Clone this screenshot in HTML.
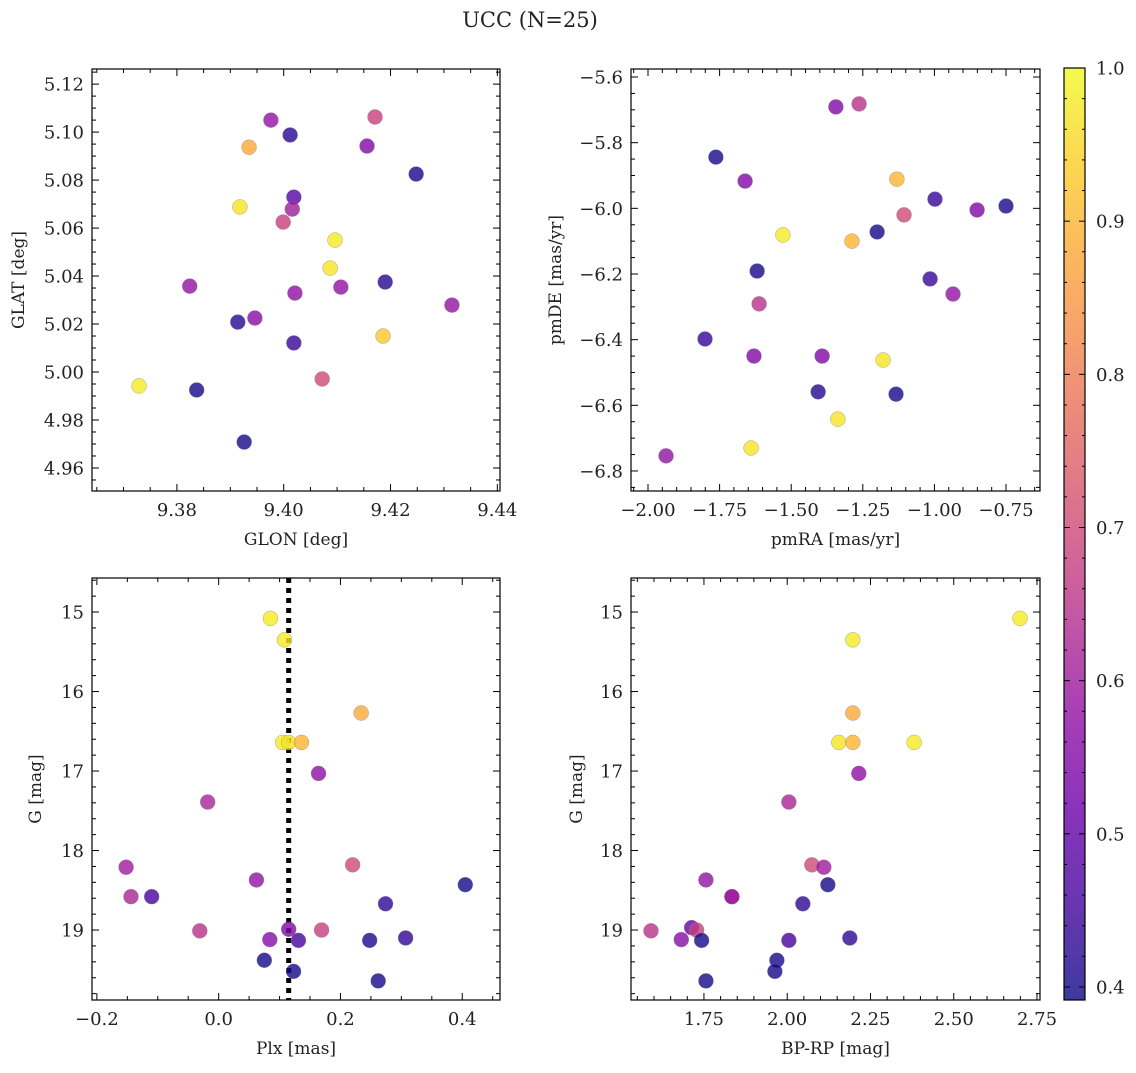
<!DOCTYPE html>
<html><head><meta charset="utf-8"><style>
body{margin:0;background:#fff;}
svg text{font-family:"DejaVu Serif","Liberation Serif",serif;fill:#222;}
</style></head><body>
<svg id="fig" width="1136" height="1068" xmlns="http://www.w3.org/2000/svg">
<defs>
<linearGradient id="cbgrad" x1="0" y1="1" x2="0" y2="0">
<stop offset="0" stop-color="#0d0887"/><stop offset="0.1" stop-color="#41049d"/><stop offset="0.2" stop-color="#6a00a8"/><stop offset="0.3" stop-color="#8f0da4"/><stop offset="0.4" stop-color="#b12a90"/><stop offset="0.5" stop-color="#cc4778"/><stop offset="0.6" stop-color="#e16462"/><stop offset="0.7" stop-color="#f2844b"/><stop offset="0.8" stop-color="#fca636"/><stop offset="0.9" stop-color="#fcce25"/><stop offset="1" stop-color="#f0f921"/>
</linearGradient></defs>
<text x="530" y="27" font-size="21" text-anchor="middle">UCC (N=25)</text>
</svg>
<script>
// Panel 1: GLON / GLAT
const p1X=[9.3729,9.3837,9.3926,9.3914,9.3824,9.3946,9.3918,9.3935,9.3976,9.4012,9.4019,9.4016,9.3999,9.4021,9.4019,9.4072,9.4096,9.4087,9.4107,9.4156,9.4171,9.419,9.4186,9.4248,9.4315];
const p1Y=[4.9942,4.9925,4.9708,5.0208,5.0358,5.0225,5.0688,5.0937,5.105,5.0988,5.0729,5.0679,5.0625,5.0329,5.0121,4.9971,5.055,5.0433,5.0354,5.0942,5.1063,5.0375,5.015,5.0825,5.0279];
const p1P=[0.98,0.40,0.40,0.42,0.58,0.56,0.97,0.88,0.58,0.42,0.48,0.6,0.68,0.57,0.44,0.7,0.98,0.97,0.58,0.55,0.68,0.42,0.93,0.40,0.58];
// Panel 2: pmRA / pmDE
const p2X=[-1.937,-1.640,-1.337,-1.406,-1.134,-1.801,-1.630,-1.392,-1.179,-1.619,-1.612,-1.529,-1.288,-1.200,-1.015,-0.935,-1.763,-1.661,-1.344,-1.263,-1.131,-1.106,-0.998,-0.851,-0.750];
const p2Y=[-6.754,-6.730,-6.642,-6.559,-6.566,-6.398,-6.450,-6.450,-6.462,-6.191,-6.291,-6.081,-6.100,-6.072,-6.215,-6.261,-5.844,-5.917,-5.691,-5.682,-5.911,-6.020,-5.972,-6.005,-5.993];
const p2P=[0.58,0.97,0.97,0.42,0.40,0.44,0.55,0.55,0.97,0.40,0.65,0.98,0.9,0.40,0.44,0.58,0.40,0.55,0.55,0.65,0.9,0.7,0.44,0.55,0.40];
// Panel 3: Plx / G
const p3X=[0.085,0.108,0.234,0.105,0.115,0.136,0.164,-0.018,-0.152,-0.144,-0.110,0.062,0.220,0.405,0.274,-0.031,0.084,0.115,0.131,0.169,0.248,0.307,0.075,0.123,0.262];
const p3Y=[15.08,15.35,16.27,16.64,16.64,16.64,17.03,17.39,18.21,18.58,18.58,18.37,18.18,18.43,18.67,19.01,19.12,18.99,19.13,19.00,19.13,19.10,19.38,19.52,19.64];
const p3P=[0.98,0.98,0.88,0.98,0.97,0.9,0.57,0.62,0.6,0.62,0.46,0.58,0.7,0.40,0.43,0.65,0.56,0.55,0.46,0.68,0.41,0.43,0.40,0.40,0.40];
// Panel 4: BP-RP / G
const p4X=[2.699,2.197,2.197,2.155,2.197,2.381,2.215,2.005,1.756,1.834,1.834,2.074,2.110,2.122,2.047,1.591,1.713,1.728,1.682,1.743,2.005,2.188,1.969,1.963,1.756];
const p4Y=[15.08,15.35,16.27,16.64,16.64,16.64,17.03,17.39,18.37,18.58,18.58,18.18,18.21,18.43,18.67,19.01,18.97,19.00,19.12,19.13,19.13,19.10,19.38,19.52,19.64];
const p4P=[0.98,0.98,0.88,0.97,0.9,0.98,0.57,0.62,0.58,0.6,0.6,0.7,0.6,0.40,0.43,0.65,0.5,0.68,0.56,0.40,0.46,0.43,0.40,0.40,0.40];
const plxLine=0.115;

const NS='http://www.w3.org/2000/svg';
const svg=document.getElementById('fig');
function el(tag,attrs,parent){const e=document.createElementNS(NS,tag);for(const k in attrs)e.setAttribute(k,attrs[k]);(parent||svg).appendChild(e);return e;}
const PL=[[13,8,135],[65,4,157],[106,0,168],[143,13,164],[177,42,144],[204,71,120],[225,100,98],[242,132,75],[252,166,54],[252,206,37],[240,249,33]];
const VMIN=0.3915,VMAX=1.0;
function plasma(p){let t=(p-VMIN)/(VMAX-VMIN);t=Math.max(0,Math.min(1,t))*10;const i=Math.min(9,Math.floor(t)),f=t-i;const a=PL[i],b=PL[i+1];return 'rgb('+a.map((v,k)=>Math.round(v+(b[k]-v)*f)).join(',')+')';}
function fmt(v,d){let s=v.toFixed(d);if(s.startsWith('-'))s='\u2212'+s.slice(1);if(/^\u2212?0(\.0+)?$/.test(s))s=s.replace('\u2212','');return s;}
const TF=18;

function panel(o){
  const g=el('g',{});
  
  
  const sx=v=>o.x0+(v-o.xmin)/(o.xmax-o.xmin)*(o.x1-o.x0);
  const sy=o.yinv? v=>o.y0+(v-o.ymin)/(o.ymax-o.ymin)*(o.y1-o.y0) : v=>o.y1-(v-o.ymin)/(o.ymax-o.ymin)*(o.y1-o.y0);
  const eps=1e-9;
  for(let v=Math.ceil(o.xmin/o.xminor-eps)*o.xminor;v<=o.xmax+eps;v+=o.xminor){
    const isMaj=Math.abs(v/o.xmajor-Math.round(v/o.xmajor))<1e-6;const L=isMaj?7:4;const x=sx(v);
    el('line',{x1:x,x2:x,y1:o.y1,y2:o.y1-L,stroke:'#000','stroke-width':1},g);
    el('line',{x1:x,x2:x,y1:o.y0,y2:o.y0+L,stroke:'#000','stroke-width':1},g);
    if(isMaj){const t=el('text',{x:x,y:o.y1+25,'font-size':TF,'text-anchor':'middle'},g);t.textContent=fmt(v,o.xd);
      
      }
  }
  for(let v=Math.ceil(o.ymin/o.yminor-eps)*o.yminor;v<=o.ymax+eps;v+=o.yminor){
    const isMaj=Math.abs(v/o.ymajor-Math.round(v/o.ymajor))<1e-6;const L=isMaj?7:4;const y=sy(v);
    el('line',{x1:o.x0,x2:o.x0+L,y1:y,y2:y,stroke:'#000','stroke-width':1},g);
    el('line',{x1:o.x1,x2:o.x1-L,y1:y,y2:y,stroke:'#000','stroke-width':1},g);
    if(isMaj){const t=el('text',{x:o.x0-8,y:y+6.5,'font-size':TF,'text-anchor':'end'},g);t.textContent=fmt(v,o.yd);
      
      }
  }
  if(o.vline!==undefined){const vl=el('line',{x1:sx(o.vline),x2:sx(o.vline),y1:o.y0,y2:o.y1,stroke:'#000','stroke-width':5,'stroke-dasharray':'5 5'},g);
    
    }
  for(let i=0;i<o.xs.length;i++){
    const c=el('circle',{cx:sx(o.xs[i]),cy:sy(o.ys[i]),r:7.5,fill:plasma(o.ps[i]),'fill-opacity':0.8,stroke:'#888','stroke-width':0.5,'stroke-opacity':0.7},g);
    
    
  }
  const fr=el('rect',{x:o.x0,y:o.y0,width:o.x1-o.x0,height:o.y1-o.y0,fill:'none',stroke:'#000','stroke-width':1.2},g);
  
  
  const xl=el('text',{x:(o.x0+o.x1)/2,y:o.y1+54,'font-size':17,'text-anchor':'middle'},g);xl.textContent=o.xlabel;
  
  
  const yx=o.ylx,yy=(o.y0+o.y1)/2;
  const yl=el('text',{x:yx,y:yy,'font-size':17,'text-anchor':'middle',transform:'rotate(-90 '+yx+' '+yy+')'},g);yl.textContent=o.ylabel;
  
  
}
panel({name:'glon-glat-panel',x0:92,x1:500,y0:69,y1:491,xmin:9.3641,xmax:9.4405,ymin:4.9504,ymax:5.1263,xmajor:0.02,xminor:0.005,ymajor:0.02,yminor:0.005,xd:2,yd:2,xs:p1X,ys:p1Y,ps:p1P,xlabel:'GLON [deg]',ylabel:'GLAT [deg]',ylx:24});
panel({name:'pm-panel',x0:631,x1:1040,y0:69,y1:491,xmin:-2.0594,xmax:-0.6313,ymin:-6.861,ymax:-5.5756,xmajor:0.25,xminor:0.05,ymajor:0.2,yminor:0.05,xd:2,yd:1,xs:p2X,ys:p2Y,ps:p2P,xlabel:'pmRA [mas/yr]',ylabel:'pmDE [mas/yr]',ylx:561});
panel({name:'plx-g-panel',x0:92,x1:500,y0:578,y1:1000,xmin:-0.208,xmax:0.462,ymin:14.572,ymax:19.88,yinv:true,xmajor:0.2,xminor:0.05,ymajor:1,yminor:0.2,xd:1,yd:0,xs:p3X,ys:p3Y,ps:p3P,xlabel:'Plx [mas]',ylabel:'G [mag]',ylx:41,vline:plxLine});
panel({name:'cmd-panel',x0:631,x1:1040,y0:578,y1:1000,xmin:1.531,xmax:2.759,ymin:14.572,ymax:19.88,yinv:true,xmajor:0.25,xminor:0.05,ymajor:1,yminor:0.2,xd:2,yd:0,xs:p4X,ys:p4Y,ps:p4P,xlabel:'BP-RP [mag]',ylabel:'G [mag]',ylx:582});

// colorbar
const cbTicks=[0.4,0.5,0.6,0.7,0.8,0.9,1.0];
const cb=el('g',{});


const cx0=1064,cx1=1085,cy0=68,cy1=1000;
el('rect',{x:cx0,y:cy0,width:cx1-cx0,height:cy1-cy0,fill:'url(#cbgrad)','fill-opacity':0.8},cb);
const cs=v=>cy1-(v-VMIN)/(VMAX-VMIN)*(cy1-cy0);
for(let v=0.4;v<=1.0001;v+=0.02){const maj=Math.abs(v*10-Math.round(v*10))<1e-6;const y=cs(v);
  el('line',{x1:cx1,x2:cx1-(maj?6:3),y1:y,y2:y,stroke:'#000','stroke-width':1},cb);
  el('line',{x1:cx0,x2:cx0+(maj?6:3),y1:y,y2:y,stroke:'#000','stroke-width':1},cb);}
cbTicks.forEach(v=>{const t=el('text',{x:cx1+11,y:cs(v)+6.5,'font-size':TF},cb);t.textContent=v.toFixed(1);
  
  });
el('rect',{x:cx0,y:cy0,width:cx1-cx0,height:cy1-cy0,fill:'none',stroke:'#000','stroke-width':1.2},cb);
</script>
</body></html>
